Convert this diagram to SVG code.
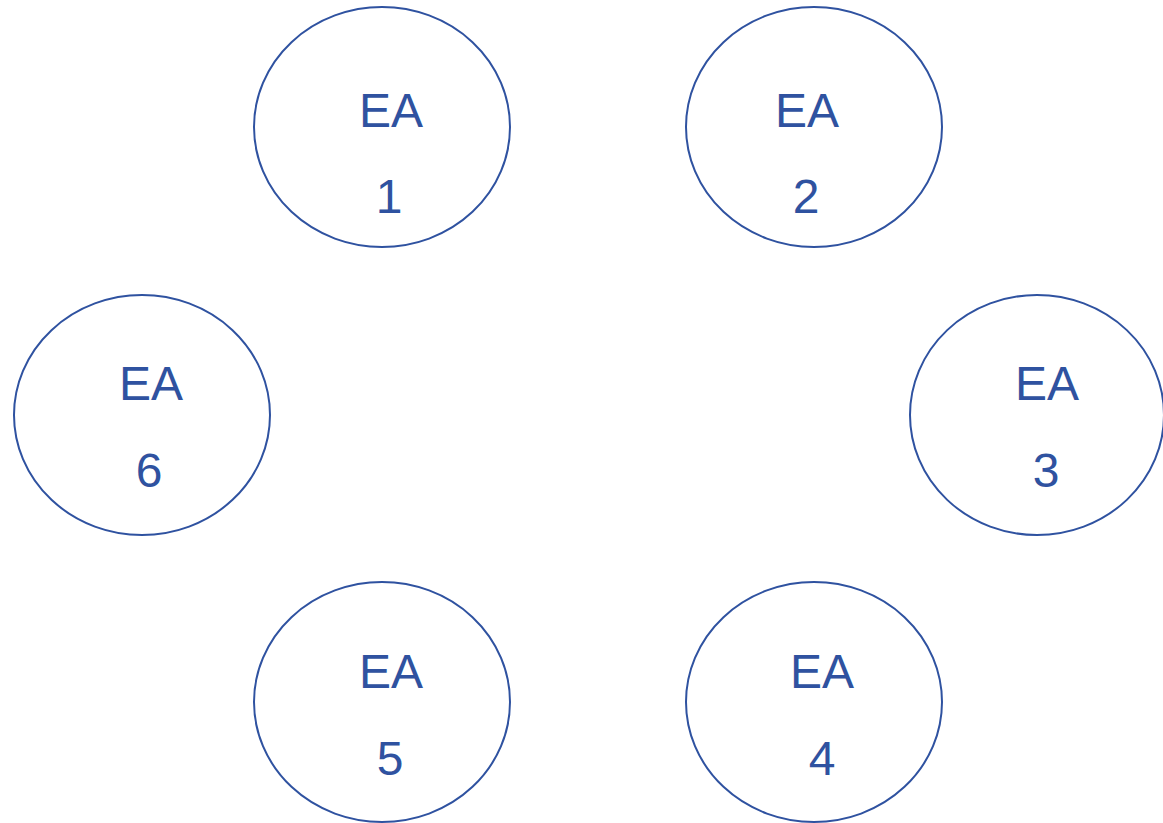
<svg xmlns="http://www.w3.org/2000/svg" width="1163" height="823" viewBox="0 0 1163 823">
<style>
.n{fill:#ffffff;stroke:#2f52a0;stroke-width:2}
.t{font-family:"Liberation Sans",Arial,sans-serif;font-size:48px;fill:#2f52a0;text-anchor:middle}
</style>
<rect width="1163" height="823" fill="#ffffff"/>
<g id="connectors"></g>
<g id="ea1"><ellipse class="n" cx="382" cy="127" rx="128" ry="120"/><text class="t" x="391" y="127">EA</text><text class="t" x="389" y="213">1</text></g>
<g id="ea2"><ellipse class="n" cx="814" cy="127" rx="128" ry="120"/><text class="t" x="807" y="127">EA</text><text class="t" x="806" y="213">2</text></g>
<g id="ea3"><ellipse class="n" cx="1037" cy="415" rx="127" ry="120"/><text class="t" x="1047" y="400">EA</text><text class="t" x="1046" y="487">3</text></g>
<g id="ea4"><ellipse class="n" cx="814" cy="702" rx="128" ry="120"/><text class="t" x="822" y="688">EA</text><text class="t" x="822" y="775">4</text></g>
<g id="ea5"><ellipse class="n" cx="382" cy="702" rx="128" ry="120"/><text class="t" x="391" y="688">EA</text><text class="t" x="390" y="775">5</text></g>
<g id="ea6"><ellipse class="n" cx="142" cy="415" rx="128" ry="120"/><text class="t" x="151" y="400">EA</text><text class="t" x="149" y="487">6</text></g>
</svg>
